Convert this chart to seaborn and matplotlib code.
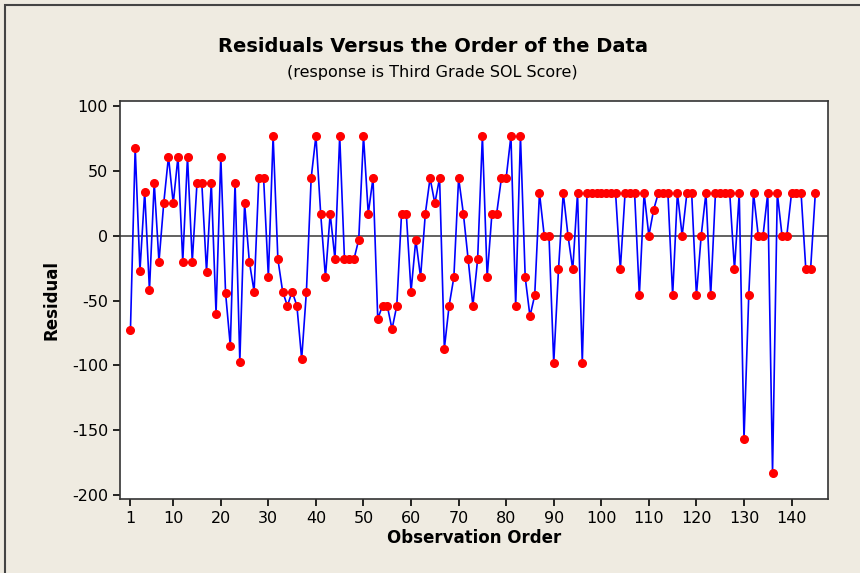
import matplotlib
matplotlib.use("Agg")
import matplotlib.pyplot as plt
from matplotlib.patches import Rectangle
import numpy as np
import pandas as pd
import seaborn as sns

# residuals, in observation order 1..145
residuals = [
    -73, 68, -27, 34, -42, 41, -20, 25, 61, 25,
    61, -20, 61, -20, 41, 41, -28, 41, -60, 61,
    -44, -85, 41, -97, 25, -20, -43, 44.5, 44.5, -32,
    77, -18, -43, -54, -43, -54, -95, -43, 44.5, 77,
    17, -32, 17, -18, 77, -18, -18, -18, -3, 77,
    17, 44.5, -64, -54, -54, -72, -54, 17, 17, -43,
    -3, -32, 17, 44.5, 25, 44.5, -87, -54, -32, 44.5,
    17, -18, -54, -18, 77, -32, 17, 17, 44.5, 44.5,
    77, -54, 77, -32, -62, -46, 33, 0, 0, -98,
    -26, 33, 0, -26, 33, -98, 33, 33, 33, 33,
    33, 33, 33, -26, 33, 33, 33, -46, 33, 0,
    20, 33, 33, 33, -46, 33, 0, 33, 33, -46,
    0, 33, -46, 33, 33, 33, 33, -26, 33, -157,
    -46, 33, 0, 0, 33, -183, 33, 0, 0, 33,
    33, 33, -26, -26, 33,
]
order = list(range(1, len(residuals) + 1))

x_ticks = [1, 10, 20, 30, 40, 50, 60, 70, 80, 90, 100, 110, 120, 130, 140]
y_ticks = [-200, -150, -100, -50, 0, 50, 100]

df = pd.DataFrame({"order": order, "residual": residuals})

sns.set_style("white")
plt.rcParams["font.family"] = ["DejaVu Sans"]
plt.rcParams["axes.unicode_minus"] = False
plt.rcParams["text.color"] = "black"
plt.rcParams["axes.labelcolor"] = "black"

bg = "#EFEBE1"
fig = plt.figure(figsize=(8.6, 5.73), dpi=100, facecolor=bg)
ax = fig.add_axes([0.1395, 0.129, 0.8235, 0.695])
ax.set_facecolor("white")

ax.axhline(0, color="#555555", linewidth=1.3, zorder=1)
sns.lineplot(data=df, x="order", y="residual", ax=ax, color="#0000FF",
             linewidth=1.2, zorder=2)
ax.plot(df["order"], df["residual"], linestyle="none", marker="o",
        markersize=5.5, markerfacecolor="#FF0000", markeredgecolor="#FF0000",
        zorder=3)

ax.set_xlim(-1.2, 147.7)
ax.set_ylim(-203, 104)
ax.set_xticks(x_ticks)
ax.set_yticks(y_ticks)
ax.tick_params(axis="both", direction="out", length=5, width=1.2,
               labelsize=11.5, colors="black", bottom=True, left=True)
for s in ax.spines.values():
    s.set_color("#333333")
    s.set_linewidth(1.2)

ax.set_xlabel("Observation Order", fontsize=12, fontweight="bold", labelpad=2)
ax.set_ylabel("Residual", fontsize=12, fontweight="bold", labelpad=8)

fig.text(0.503, 0.918, "Residuals Versus the Order of the Data",
         ha="center", va="center", fontsize=14, fontweight="bold")
fig.text(0.503, 0.873, "(response is Third Grade SOL Score)",
         ha="center", va="center", fontsize=11.5)

fig.patches.append(Rectangle((0.006, -0.1), 1.2, 1.091, transform=fig.transFigure,
                             fill=False, edgecolor="#444444", linewidth=1.5))

fig.savefig("out.png", dpi=100, facecolor=bg)
